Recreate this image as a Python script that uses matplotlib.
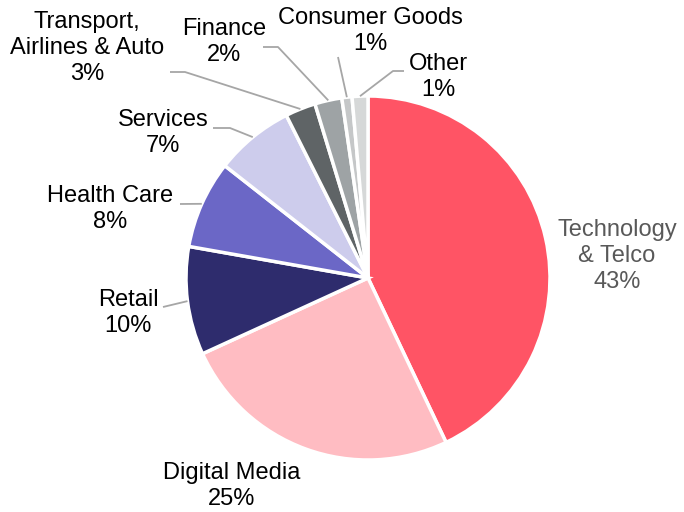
import matplotlib.pyplot as plt
import numpy as np

# sector shares (%), clockwise from 12 o'clock
sectors = ['Technology\n& Telco', 'Digital Media', 'Retail', 'Health Care', 'Services',
           'Transport,\nAirlines & Auto', 'Finance', 'Consumer Goods', 'Other']
shares = [42.9, 25.2, 9.6, 7.8, 7.0, 2.7, 2.4, 0.9, 1.4]
colors = ['#FF5465', '#FFBCC2', '#2E2C6D', '#6B67C6', '#CDCCEC',
          '#5F6466', '#9EA3A5', '#C5C7C8', '#D6D8D8']

plt.rcParams['font.family'] = ['Liberation Sans', 'DejaVu Sans']

W, H = 684, 512
cx, cy, R = 368, 278, 182  # pie centre and radius in pixels


def px(x, y):
    # pixel position -> data units (pie radius = 1)
    return (x - cx) / R, (cy - y) / R


fig = plt.figure(figsize=(W / 100, H / 100), dpi=100)
ax = fig.add_axes([0, 0, 1, 1])

wedges, _ = ax.pie(shares, colors=colors, startangle=90, counterclock=False,
                   radius=1.0, wedgeprops=dict(edgecolor='white', linewidth=2.5))

ax.set_xlim(px(0, 0)[0], px(W, 0)[0])
ax.set_ylim(px(0, H)[1], px(0, 0)[1])
ax.set_aspect('equal')
ax.axis('off')

# label centres (pixels) and leader elbows (None = no leader)
label_pos = [(617, 256), (232, 486), (128, 313), (110, 209), (163, 133),
             (87, 48), (224, 42), (370, 31), (438, 77)]
leader_start = [None, None, (163, 307), (180, 204), (213, 128),
                (170, 72), (263, 47), (338, 57), (404, 71)]
leader_elbow = [None, None, None, None, (230, 128),
                (185, 72), (278, 47), None, (393, 71)]

fs = 17
for i, w in enumerate(wedges):
    pct = '%d%%' % round(shares[i])
    txt = sectors[i] + '\n' + pct
    c = '#595959' if i == 0 else 'black'
    x, y = px(*label_pos[i])
    ax.text(x, y, txt, ha='center', va='center', fontsize=fs, color=c,
            linespacing=1.22)
    if leader_start[i] is not None:
        ang = np.deg2rad((w.theta1 + w.theta2) / 2)
        ex, ey = 1.0 * np.cos(ang), 1.0 * np.sin(ang)
        pts = [px(*leader_start[i])]
        if leader_elbow[i] is not None:
            pts.append(px(*leader_elbow[i]))
        pts.append((ex, ey))
        pts = np.array(pts)
        ax.plot(pts[:, 0], pts[:, 1], color='#A6A6A6', linewidth=1.3,
                solid_capstyle='butt')

plt.savefig('out.png', dpi=100)
